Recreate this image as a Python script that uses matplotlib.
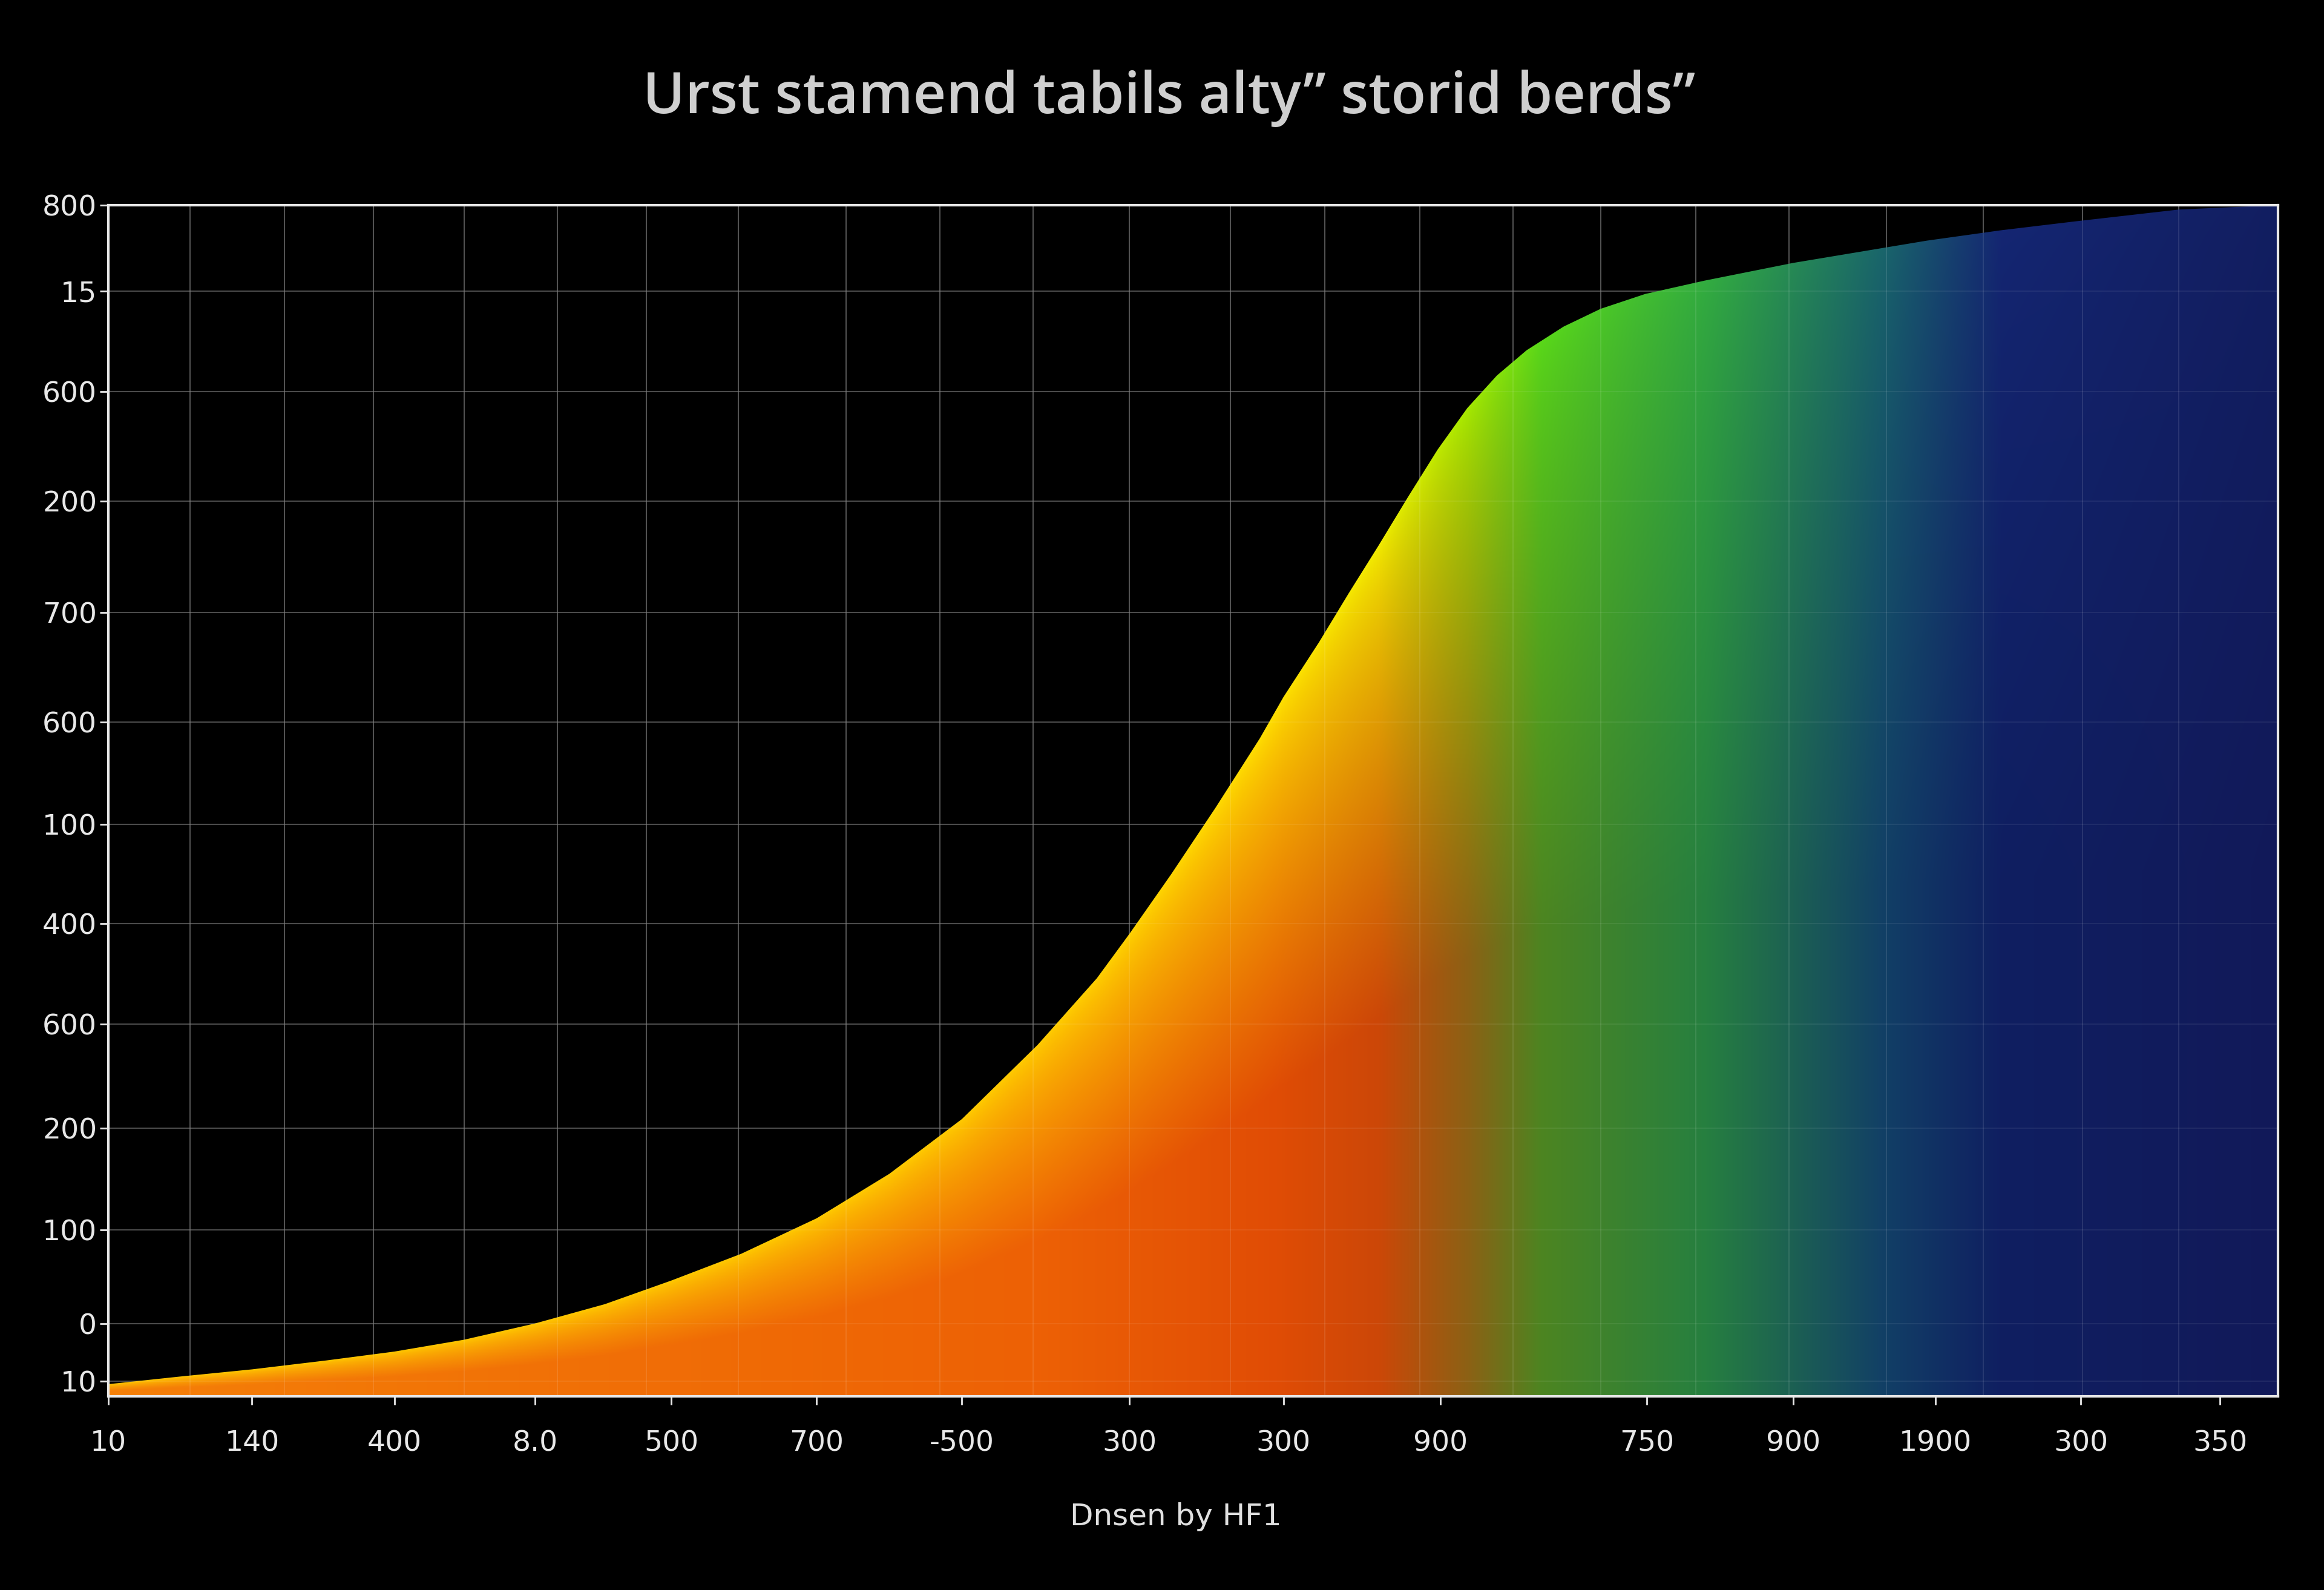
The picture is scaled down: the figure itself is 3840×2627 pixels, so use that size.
import numpy as np
import matplotlib.pyplot as plt
from matplotlib.path import Path
from matplotlib.patches import PathPatch

# curve top edge, in axis units (0..1464 wide, 0..804 tall)
curve_x = [0, 47, 97, 147, 193, 240, 288, 335, 380, 427, 478, 527, 576, 627, 667, 689, 717, 747,
           777, 793, 817, 837, 857, 877, 897, 917, 937, 957, 982, 1007, 1037, 1077, 1137, 1197,
           1227, 1277, 1327, 1397, 1464]
curve_y = [8, 13, 18, 24, 30, 38, 49, 62, 78, 96, 120, 150, 187, 237, 282, 312, 352, 397,
           444, 472, 509, 542, 574, 607, 639, 667, 689, 706, 722, 734, 744, 753, 765, 775,
           780, 787, 793, 801, 804]

xtick_pos = [0, 97, 193, 288, 380, 478, 576, 689, 793, 899, 1038, 1137, 1233, 1331, 1425]
xtick_lab = ["10", "140", "400", "8.0", "500", "700", "-500", "300", "300", "900", "750", "900", "1900", "300", "350"]
ytick_pos = [804, 746, 678, 604, 529, 455, 386, 319, 251, 181, 112, 49, 10]
ytick_lab = ["800", "15", "600", "200", "700", "600", "100", "400", "600", "200", "100", "0", "10"]
vgrid = [55, 119, 179, 240, 303, 363, 425, 498, 561, 624, 689, 757, 821, 885, 948, 1007, 1071, 1134, 1200, 1265, 1332, 1397]

# colour stops along x: top colour (at curve) and bottom colour
stops_x = [0, 627, 787, 857, 917, 967, 1077, 1197, 1277, 1464]
top_c = [(1, .78, 0), (1, .8, 0), (1, .88, 0), (.95, .93, 0), (.65, .92, 0), (.35, .85, .1),
         (.2, .68, .25), (.1, .4, .42), (.08, .15, .45), (.07, .12, .38)]
bot_c = [(.96, .5, .03), (.93, .38, .02), (.88, .3, .02), (.8, .28, .03), (.55, .38, .08), (.3, .52, .13),
         (.15, .5, .25), (.07, .25, .4), (.06, .12, .38), (.07, .1, .35)]

W, H = 1464, 804
xs = np.arange(W) + 0.5
ys = np.arange(H) + 0.5
cy = np.interp(xs, curve_x, curve_y)
top = np.stack([np.interp(xs, stops_x, [c[i] for c in top_c]) for i in range(3)], -1)
bot = np.stack([np.interp(xs, stops_x, [c[i] for c in bot_c]) for i in range(3)], -1)
frac = np.clip((cy[None, :] - ys[:, None]) / np.maximum(cy[None, :], 1), 0, 1)
w = np.clip(frac * 1.8, 0, 1) ** 0.7
img = top[None] * (1 - w[..., None]) + bot[None] * w[..., None]

fig = plt.figure(figsize=(38.4, 26.27), dpi=100, facecolor="black")
ax = fig.add_axes([0.0466, 0.122, 0.9336, 0.749])
ax.set_facecolor("black")
ax.set_xlim(0, W)
ax.set_ylim(0, H)

for v in vgrid:
    ax.axvline(v, color="#5a5a5a", lw=1.5, alpha=0.7, zorder=0)
for v in ytick_pos:
    ax.axhline(v, color="#5a5a5a", lw=1.5, alpha=0.7, zorder=0)

verts = list(zip(curve_x, curve_y)) + [(W, 0), (0, 0)]
patch = PathPatch(Path(verts + [verts[0]], closed=True), facecolor="none", edgecolor="none")
ax.add_patch(patch)
im = ax.imshow(img, origin="lower", extent=[0, W, 0, H], aspect="auto", zorder=1)
im.set_clip_path(patch)
for v in vgrid:
    ax.axvline(v, color="white", lw=1.2, alpha=0.12, zorder=2)
for v in ytick_pos:
    ax.axhline(v, color="white", lw=1.2, alpha=0.08, zorder=2)

ax.set_xticks(xtick_pos, xtick_lab)
ax.set_yticks(ytick_pos, ytick_lab)
ax.tick_params(colors="#e8e8e8", labelsize=34, length=10, width=2)
ax.tick_params(axis="x", pad=30)
for s in ax.spines.values():
    s.set_color("#e8e8e8")
    s.set_linewidth(3)

fig.text(0.503, 0.938, "Urst stamend tabils alty\u201d storid berds\u201d", ha="center", va="center",
         color="#cfcfcf", fontsize=68, fontweight="semibold", family="Open Sans")
fig.text(0.506, 0.046, "Dnsen by HF1", ha="center", va="center", color="#e0e0e0", fontsize=36)

fig.savefig("out.png", facecolor="black")
